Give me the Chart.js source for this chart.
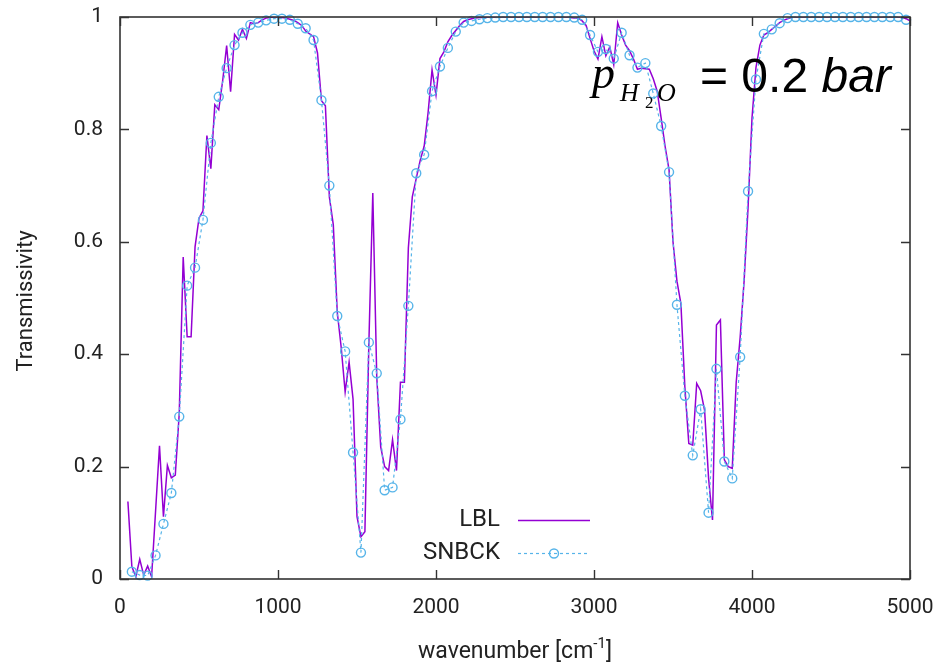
<!DOCTYPE html>
<html>
<head>
<meta charset="utf-8">
<script src="https://cdn.jsdelivr.net/npm/chart.js@4.4.1/dist/chart.umd.min.js"></script>
<style>
  html, body { margin: 0; padding: 0; background: #ffffff; }
  canvas { display: block; }
</style>
</head>
<body>
<canvas id="chart" width="941" height="665"></canvas>
<script>
// Line-by-line transmissivity, sampled every 25 cm^-1 from 50 cm^-1
const lblStart = 50;
const lblStep = 25;
const lblTransmissivity = [
  0.138, 0.022, 0.004, 0.035, 0.007, 0.023, 0.004, 0.120, 0.237, 0.111,
  0.202, 0.180, 0.185, 0.295, 0.573, 0.431, 0.431, 0.591, 0.642, 0.655,
  0.789, 0.730, 0.844, 0.835, 0.887, 0.949, 0.867, 0.969, 0.959, 0.978,
  0.962, 0.990, 0.988, 0.990, 0.995, 0.998, 0.999, 1.000, 1.000, 0.999,
  0.998, 0.996, 0.994, 0.990, 0.985, 0.975, 0.970, 0.965, 0.936, 0.851,
  0.842, 0.680, 0.630, 0.475, 0.412, 0.333, 0.386, 0.320, 0.111, 0.075,
  0.084, 0.418, 0.687, 0.360, 0.235, 0.200, 0.193, 0.248, 0.193, 0.350,
  0.350, 0.589, 0.680, 0.713, 0.745, 0.770, 0.830, 0.906, 0.861, 0.926,
  0.938, 0.956, 0.967, 0.976, 0.985, 0.992, 0.995, 0.997, 0.998, 0.999,
  0.999, 1.000, 1.000, 1.000, 1.000, 1.000, 1.000, 1.000, 1.000, 1.000,
  1.000, 1.000, 1.000, 1.000, 1.000, 1.000, 1.000, 1.000, 1.000, 1.000,
  1.000, 1.000, 0.999, 0.998, 0.998, 0.993, 0.985, 0.962, 0.940, 0.925,
  0.965, 0.931, 0.947, 0.915, 0.990, 0.968, 0.950, 0.940, 0.925, 0.907,
  0.909, 0.908, 0.907, 0.890, 0.868, 0.820, 0.770, 0.728, 0.600, 0.530,
  0.490, 0.342, 0.241, 0.238, 0.348, 0.335, 0.300, 0.180, 0.105, 0.452,
  0.461, 0.212, 0.200, 0.197, 0.350, 0.430, 0.530, 0.660, 0.820, 0.910,
  0.950, 0.968, 0.972, 0.978, 0.984, 0.990, 0.994, 0.997, 0.999, 1.000,
  1.000, 1.000, 1.000, 1.000, 1.000, 1.000, 1.000, 1.000, 1.000, 1.000,
  1.000, 1.000, 1.000, 1.000, 1.000, 1.000, 1.000, 1.000, 1.000, 1.000,
  1.000, 1.000, 1.000, 1.000, 1.000, 1.000, 1.000, 0.997, 0.993
];

// SNBCK band model, band centres every 50 cm^-1 from 75 cm^-1
const snbckStart = 75;
const snbckStep = 50;
const snbckTransmissivity = [
  0.013, 0.007, 0.006, 0.042, 0.098, 0.153, 0.289, 0.522, 0.554, 0.639,
  0.776, 0.858, 0.909, 0.950, 0.972, 0.986, 0.990, 0.994, 0.997, 0.997,
  0.995, 0.988, 0.980, 0.959, 0.852, 0.700, 0.468, 0.405, 0.225, 0.047,
  0.421, 0.366, 0.158, 0.163, 0.284, 0.486, 0.722, 0.755, 0.868, 0.912,
  0.945, 0.974, 0.990, 0.993, 0.996, 0.998, 0.999, 1.000, 1.000, 1.000,
  1.000, 1.000, 1.000, 1.000, 1.000, 1.000, 0.999, 0.995, 0.968, 0.938,
  0.943, 0.926, 0.972, 0.932, 0.910, 0.918, 0.864, 0.806, 0.724, 0.488,
  0.326, 0.220, 0.302, 0.118, 0.374, 0.209, 0.179, 0.395, 0.690, 0.889,
  0.970, 0.978, 0.989, 0.998, 1.000, 1.000, 1.000, 1.000, 1.000, 1.000,
  1.000, 1.000, 1.000, 1.000, 1.000, 1.000, 1.000, 1.000, 0.995
];

const xTickValues = [0, 1000, 2000, 3000, 4000, 5000];
const yTickValues = [0, 0.2, 0.4, 0.6, 0.8, 1];
const seriesNames = ['LBL', 'SNBCK'];

const toPoints = (start, step, values) =>
  values.map((v, i) => ({ x: start + step * i, y: v }));

const FONT = 'Roboto, "Noto Sans", sans-serif';
const INK = '#222222';

// Closed frame with inward ticks on all four sides
const framePlugin = {
  id: 'frame',
  afterDatasetsDraw(chart) {
    const { ctx, chartArea: a, scales } = chart;
    const len = 9;
    ctx.save();
    ctx.strokeStyle = '#333333';
    ctx.lineWidth = 1.4;
    ctx.beginPath();
    scales.y.ticks.forEach(t => {
      const y = Math.round(scales.y.getPixelForValue(t.value)) + 0.5;
      ctx.moveTo(a.left, y); ctx.lineTo(a.left + len, y);
      ctx.moveTo(a.right, y); ctx.lineTo(a.right - len, y);
    });
    scales.x.ticks.forEach(t => {
      const x = Math.round(scales.x.getPixelForValue(t.value)) + 0.5;
      ctx.moveTo(x, a.bottom); ctx.lineTo(x, a.bottom - len);
      ctx.moveTo(x, a.top); ctx.lineTo(x, a.top + len);
    });
    ctx.stroke();
    ctx.lineWidth = 1.6;
    ctx.strokeRect(a.left, a.top, a.right - a.left, a.bottom - a.top);
    ctx.restore();
  }
};

// Key in the lower middle of the plot, built from the dataset styles
const keyPlugin = {
  id: 'key',
  afterDraw(chart) {
    const { ctx } = chart;
    const textRight = 500, sampleL = 518, sampleR = 590;
    const rows = [520, 553];
    ctx.save();
    ctx.font = '24px ' + FONT;
    ctx.textAlign = 'right';
    ctx.textBaseline = 'middle';
    chart.data.datasets.forEach((ds, i) => {
      const y = rows[i];
      ctx.fillStyle = INK;
      ctx.fillText(ds.label, textRight, y);
      ctx.strokeStyle = ds.borderColor;
      ctx.lineWidth = ds.borderWidth;
      ctx.setLineDash(ds.borderDash || []);
      ctx.beginPath();
      ctx.moveTo(sampleL, y + 0.5); ctx.lineTo(sampleR, y + 0.5);
      ctx.stroke();
      ctx.setLineDash([]);
      if (ds.pointRadius > 0) {
        ctx.lineWidth = ds.pointBorderWidth;
        ctx.strokeStyle = ds.pointBorderColor;
        ctx.beginPath();
        ctx.arc((sampleL + sampleR) / 2, y + 0.5, ds.pointRadius, 0, Math.PI * 2);
        ctx.stroke();
      }
    });
    ctx.restore();
  }
};

// Axis titles and the partial-pressure note
const textPlugin = {
  id: 'texts',
  afterDraw(chart) {
    const { ctx, chartArea: a } = chart;
    ctx.save();
    ctx.fillStyle = INK;

    // x title with superscript
    const main = 'wavenumber [cm', sup = '-1', tail = ']';
    ctx.font = '23px ' + FONT;
    const wMain = ctx.measureText(main).width;
    const wTail = ctx.measureText(tail).width;
    ctx.font = '15px ' + FONT;
    const wSup = ctx.measureText(sup).width;
    let x = (a.left + a.right) / 2 - (wMain + wSup + wTail) / 2;
    const base = 658;
    ctx.textAlign = 'left';
    ctx.textBaseline = 'alphabetic';
    ctx.font = '23px ' + FONT;
    ctx.fillText(main, x, base); x += wMain;
    ctx.font = '15px ' + FONT;
    ctx.fillText(sup, x, base - 10); x += wSup;
    ctx.font = '23px ' + FONT;
    ctx.fillText(tail, x, base);

    // y title
    ctx.save();
    ctx.translate(26, 301);
    ctx.rotate(-Math.PI / 2);
    ctx.textAlign = 'center';
    ctx.textBaseline = 'middle';
    ctx.font = '22px ' + FONT;
    ctx.fillText('Transmissivity', 0, 0);
    ctx.restore();

    // p_{H2O} = 0.2 bar
    ctx.fillStyle = '#000000';
    ctx.textAlign = 'left';
    ctx.textBaseline = 'alphabetic';
    ctx.font = 'italic 46px "Liberation Serif", serif';
    ctx.fillText('p', 592, 88);
    ctx.font = 'italic 26px "Liberation Serif", serif';
    ctx.fillText('H', 620, 101);
    ctx.font = '17px "Liberation Serif", serif';
    ctx.fillText('2', 645, 108);
    ctx.font = 'italic 26px "Liberation Serif", serif';
    ctx.fillText('O', 657, 101);
    ctx.font = '48px "Liberation Sans", Arial, sans-serif';
    const eq = '= 0.2 ';
    ctx.fillText(eq, 700, 92);
    const wEq = ctx.measureText(eq).width;
    ctx.font = 'italic 48px "Liberation Sans", Arial, sans-serif';
    ctx.fillText('bar', 700 + wEq, 92);
    ctx.restore();
  }
};

new Chart(document.getElementById('chart'), {
  type: 'line',
  data: {
    datasets: [
      {
        label: seriesNames[0],
        data: toPoints(lblStart, lblStep, lblTransmissivity),
        borderColor: '#9400D3',
        borderWidth: 1.5,
        pointRadius: 0,
        tension: 0,
        order: 1
      },
      {
        label: seriesNames[1],
        data: toPoints(snbckStart, snbckStep, snbckTransmissivity),
        borderColor: '#56B4E9',
        borderWidth: 1.2,
        borderDash: [3, 3],
        pointRadius: 4.5,
        pointBorderWidth: 1.4,
        pointBorderColor: '#56B4E9',
        pointBackgroundColor: 'rgba(0,0,0,0)',
        pointStyle: 'circle',
        tension: 0,
        clip: false,
        order: 0
      }
    ]
  },
  options: {
    responsive: false,
    animation: false,
    devicePixelRatio: 1,
    layout: { padding: { left: 0, right: 31, top: 17, bottom: 0 } },
    plugins: { legend: { display: false }, tooltip: { enabled: false } },
    scales: {
      x: {
        type: 'linear',
        min: 0, max: 5000,
        afterBuildTicks: s => { s.ticks = xTickValues.map(v => ({ value: v })); },
        afterFit: s => {
          s.height = 86;
          s.paddingLeft = 0; s.paddingRight = 0;
        },
        grid: { display: false, drawTicks: false },
        border: { display: false },
        ticks: {
          padding: 16,
          color: INK,
          font: { family: FONT, size: 21 },
          maxRotation: 0,
          callback: v => String(v)
        }
      },
      y: {
        type: 'linear',
        min: 0, max: 1,
        afterBuildTicks: s => { s.ticks = yTickValues.map(v => ({ value: v })); },
        afterFit: s => {
          s.width = 120;
          s.paddingTop = 0; s.paddingBottom = 0;
        },
        grid: { display: false, drawTicks: false },
        border: { display: false },
        ticks: {
          padding: 17,
          color: INK,
          font: { family: FONT, size: 21 },
          callback: v => String(Math.round(v * 10) / 10)
        }
      }
    }
  },
  plugins: [framePlugin, keyPlugin, textPlugin]
});
</script>
</body>
</html>
